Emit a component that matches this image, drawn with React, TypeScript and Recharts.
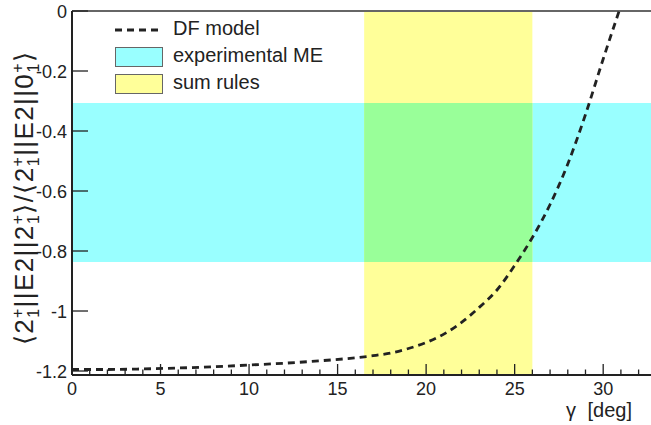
import React from 'react';
import { LineChart, Line, XAxis, YAxis, ReferenceArea, ReferenceLine, Legend } from 'recharts';

const FONT = '"Liberation Sans", Arial, Helvetica, sans-serif';

// gamma [deg]
const gammaDeg = [0, 2, 4, 6, 8, 10, 12, 14, 16, 17, 18, 19, 20, 21, 22, 23, 24, 25, 26, 27, 28, 29, 30, 30.9];
// DF model ratio
const dfModel = [-1.195, -1.195, -1.193, -1.19, -1.186, -1.18, -1.174, -1.166, -1.156, -1.149, -1.14, -1.125, -1.105, -1.077, -1.038, -0.988, -0.93, -0.848, -0.755, -0.645, -0.51, -0.345, -0.16, 0];

const xTicks = [0, 1, 2, 3, 4, 5, 6, 7, 8, 9, 10, 11, 12, 13, 14, 15, 16, 17, 18, 19, 20, 21, 22, 23, 24, 25, 26, 27, 28, 29, 30, 31, 32];
const yTicks = [0, -0.2, -0.4, -0.6, -0.8, -1, -1.2];
const yTickLabels = ['0', '-0.2', '-0.4', '-0.6', '-0.8', '-1', '-1.2'];

const xDomain = [0, 32.7];
const yDomain = [-1.2133, 0];

// bands
const expME = [-0.837, -0.307]; // experimental matrix element range (y)
const sumRules = [16.5, 26.0]; // sum rules range (x, deg)

const legendLabels = ['DF model', 'experimental ME', 'sum rules'];
const colors = { cyan: '#99ffff', yellow: '#ffff99', green: '#99ff99', line: '#222222' };

const data = gammaDeg.map((g, i) => ({ g, df: dfModel[i] }));

const XTick = (props: any) => {
  const { x, y, payload } = props;
  const v = payload.value;
  const major = Math.abs(v % 5) < 1e-9;
  return (
    <g>
      <line x1={x} x2={x} y1={y} y2={y - (major ? 11 : 5.5)} stroke="#222" strokeWidth={1.3} />
      {major && (
        <text x={x} y={y + 20} textAnchor="middle" fontSize={18} fill="#222" fontFamily={FONT}>
          {v}
        </text>
      )}
    </g>
  );
};

const YTick = (props: any) => {
  const { x, y, payload } = props;
  const idx = yTicks.findIndex((t) => Math.abs(t - payload.value) < 1e-6);
  const label = idx >= 0 ? yTickLabels[idx] : String(payload.value);
  return (
    <g>
      <line x1={x} x2={x + 16} y1={y} y2={y} stroke="#222" strokeWidth={1.3} />
      <text x={x - 5} y={y + 6.5} textAnchor="end" fontSize={18} fill="#222" fontFamily={FONT}>
        {label}
      </text>
    </g>
  );
};

const YTitle = (props: any) => {
  const vb = props.viewBox || { x: 0, y: 11, width: 72, height: 364 };
  const cx = 33;
  const cy = vb.y + vb.height / 2 + 5;
  const fs = 26;
  const ss = 16;
  const up = -10;
  const down = 16;
  const back = -(ss * 0.58) - 1.2;
  const ss1 = (k: string) => [
    <tspan key={k + 'a'} fontSize={ss} dy={up}>+</tspan>,
    <tspan key={k + 'b'} fontSize={ss} dx={back} dy={down}>1</tspan>,
  ];
  const ret = -(up + down);
  return (
    <text
      x={cx}
      y={cy}
      transform={`rotate(-90, ${cx}, ${cy})`}
      textAnchor="middle"
      fontSize={fs}
      fill="#222"
      fontFamily={FONT}
      letterSpacing={1.4}
    >
      <tspan>{'\u27E82'}</tspan>
      {ss1('a')}
      <tspan dy={ret}>||E2||2</tspan>
      {ss1('b')}
      <tspan dy={ret}>{'\u27E9/\u27E82'}</tspan>
      {ss1('c')}
      <tspan dy={ret}>||E2||0</tspan>
      {ss1('d')}
      <tspan dy={ret}>{'\u27E9'}</tspan>
    </text>
  );
};

const XTitle = (props: any) => {
  const vb = props.viewBox || { x: 72, y: 375, width: 579, height: 50 };
  return (
    <text x={632} y={vb.y + 42} textAnchor="end" fontSize={20} fill="#222" fontFamily={FONT}>
      <tspan>γ</tspan>
      <tspan dx={6}> [deg]</tspan>
    </text>
  );
};

const LegendBox = () => (
  <svg width={400} height={110} style={{ display: 'block' }}>
    <line x1={115} x2={162} y1={30} y2={30} stroke={colors.line} strokeWidth={2.8} strokeDasharray="7 5" />
    <rect x={115.5} y={47.5} width={47} height={19} fill={colors.cyan} stroke="#666" strokeWidth={1} />
    <rect x={115.5} y={74.5} width={47} height={19} fill={colors.yellow} stroke="#666" strokeWidth={1} />
    <text x={173} y={35} fontSize={20} fill="#222" fontFamily={FONT}>{legendLabels[0]}</text>
    <text x={173} y={62} fontSize={20} fill="#222" fontFamily={FONT}>{legendLabels[1]}</text>
    <text x={173} y={89} fontSize={20} fill="#222" fontFamily={FONT}>{legendLabels[2]}</text>
  </svg>
);

export default function App() {
  return (
    <div style={{ position: 'absolute', left: 0, top: 0, width: 651, height: 425, background: '#fff' }}>
      <LineChart width={651} height={425} data={data} margin={{ top: 11, right: 0, bottom: 0, left: 0 }}>
        <ReferenceArea x1={xDomain[0]} x2={xDomain[1]} y1={expME[0]} y2={expME[1]} fill={colors.cyan} fillOpacity={1} stroke="none" />
        <ReferenceArea x1={sumRules[0]} x2={sumRules[1]} y1={yDomain[0]} y2={yDomain[1]} fill={colors.yellow} fillOpacity={1} stroke="none" />
        <ReferenceArea x1={sumRules[0]} x2={sumRules[1]} y1={expME[0]} y2={expME[1]} fill={colors.green} fillOpacity={1} stroke="none" />
        <ReferenceLine y={0} stroke="#666" strokeWidth={2} />
        <XAxis
          dataKey="g"
          type="number"
          domain={xDomain}
          ticks={xTicks}
          interval={0}
          allowDataOverflow
          tickSize={0}
          tickMargin={0}
          tickLine={false}
          axisLine={{ stroke: '#222', strokeWidth: 2 }}
          tick={<XTick />}
          height={50}
          label={{ content: <XTitle /> }}
        />
        <YAxis
          type="number"
          domain={yDomain}
          ticks={yTicks}
          interval={0}
          allowDataOverflow
          tickSize={0}
          tickMargin={0}
          tickLine={false}
          axisLine={{ stroke: '#222', strokeWidth: 2 }}
          tick={<YTick />}
          width={72}
          label={{ content: <YTitle /> }}
        />
        <Line
          type="monotone"
          dataKey="df"
          stroke={colors.line}
          strokeWidth={2.8}
          strokeDasharray="7 5"
          dot={false}
          activeDot={false}
          isAnimationActive={false}
        />
        <Legend
          verticalAlign="middle"
          align="center"
          layout="horizontal"
          wrapperStyle={{ position: 'absolute', left: 0, top: 0, width: 400, height: 110 }}
          content={() => <LegendBox />}
        />
      </LineChart>
    </div>
  );
}
